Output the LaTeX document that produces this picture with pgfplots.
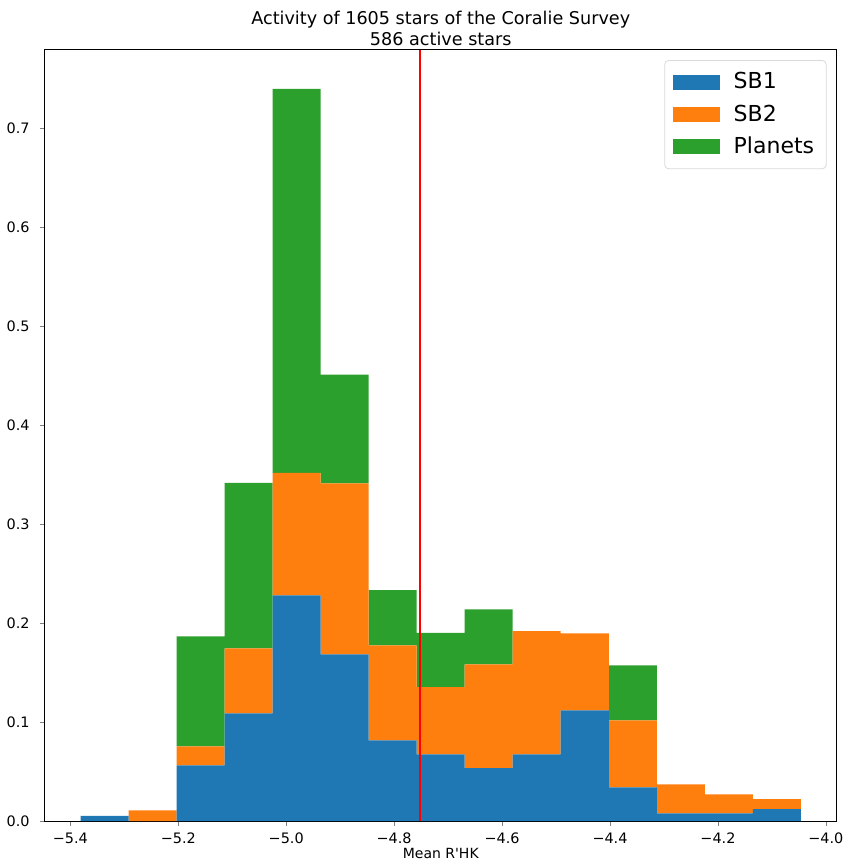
\documentclass[border=0pt]{standalone}
\usepackage{fontspec}
\setmainfont{DejaVu Sans}
\usepackage{pgfplots}
\pgfplotsset{compat=1.18}
\definecolor{mblue}{HTML}{1F77B4}
\definecolor{morange}{HTML}{FF7F0E}
\definecolor{mgreen}{HTML}{2CA02C}
\begin{document}
\begin{tikzpicture}
\begin{axis}[
  name=main,
  scale only axis,
  width=396pt, height=385.5pt,
  xmin=-5.4476, xmax=-3.9796,
  ymin=0, ymax=0.7787,
  ybar stacked,
  bar width=0.08897,
  axis line style={line width=0.5pt},
  tick align=outside,
  tick pos=left,
  major tick length=2.5pt,
  xtick={-5.4,-5.2,-5.0,-4.8,-4.6,-4.4,-4.2,-4.0},
  xticklabels={−5.4,−5.2,−5.0,−4.8,−4.6,−4.4,−4.2,−4.0},
  ytick={0,0.1,0.2,0.3,0.4,0.5,0.6,0.7},
  yticklabels={0.0,0.1,0.2,0.3,0.4,0.5,0.6,0.7},
  ticklabel style={font=\fontsize{7.2}{8}\selectfont},
  yticklabel style={xshift=-1.5pt},
  xlabel={Mean R\textquotesingle HK},
  xlabel style={font=\fontsize{7}{8}\selectfont, yshift=5pt},
  title={Activity of 1605 stars of the Coralie Survey\\586 active stars},
  title style={font=\fontsize{8.8}{10.6}\selectfont, align=center, yshift=-7.5pt},
  legend style={at={(0.987,0.987)}, anchor=north east, draw=black!15, rounded corners=2pt,
    font=\fontsize{11}{12}\selectfont, row sep=2.5pt, column sep=5pt, inner xsep=4pt, inner ysep=4pt},
  legend cell align=left,
  legend image code/.code={\fill[#1, sharp corners] (0pt,-3.75pt) rectangle (23.5pt,3.75pt);},
  clip=true,
]
\addplot[fill=mblue, draw=none] coordinates {
(-5.3365,0.0053) (-5.2475,0) (-5.1586,0.0565) (-5.0696,0.109) (-4.9806,0.228)
(-4.8917,0.1685) (-4.8027,0.0817) (-4.7137,0.0676) (-4.6248,0.0535) (-4.5358,0.0676)
(-4.4468,0.112) (-4.3578,0.0343) (-4.2689,0.008) (-4.1799,0.008) (-4.0909,0.0121)};
\addlegendentry{SB1}
\addplot[fill=morange, draw=none] coordinates {
(-5.3365,0) (-5.2475,0.011) (-5.1586,0.0192) (-5.0696,0.0655) (-4.9806,0.1237)
(-4.8917,0.1725) (-4.8027,0.0958) (-4.7137,0.0679) (-4.6248,0.1049) (-4.5358,0.1244)
(-4.4468,0.0776) (-4.3578,0.0676) (-4.2689,0.0293) (-4.1799,0.0192) (-4.0909,0.0101)};
\addlegendentry{SB2}
\addplot[fill=mgreen, draw=none] coordinates {
(-5.3365,0) (-5.2475,0) (-5.1586,0.1109) (-5.0696,0.1671) (-4.9806,0.3877)
(-4.8917,0.1100) (-4.8027,0.0558) (-4.7137,0.0548) (-4.6248,0.0554) (-4.5358,0)
(-4.4468,0) (-4.3578,0.0555) (-4.2689,0) (-4.1799,0) (-4.0909,0)};
\addlegendentry{Planets}
\end{axis}
\begin{axis}[
  scale only axis,
  width=396pt, height=385.5pt,
  xmin=-5.4476, xmax=-3.9796,
  ymin=0, ymax=0.7787,
  axis lines=none,
]
\addplot[color=red, line width=1pt, forget plot] coordinates {(-4.7526,0) (-4.7526,0.7787)};
\end{axis}
\path (main.north east) ++(2pt,0pt);
\path (main.north) ++(0pt,25pt);
\end{tikzpicture}
\end{document}
